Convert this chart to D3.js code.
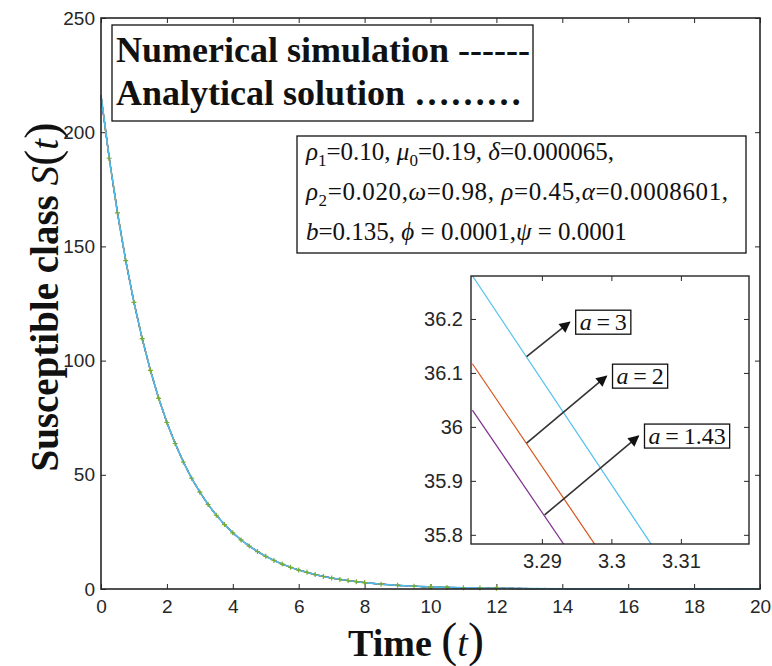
<!DOCTYPE html>
<html><head><meta charset="utf-8">
<script src="https://cdn.jsdelivr.net/npm/d3@7"></script>
<style>body{margin:0;background:#fff} svg{display:block}</style>
</head><body>
<svg id="chart" width="772" height="666"></svg>
<script>
// ---- data ----
const timePoints = [0,0.25,0.5,0.75,1,1.25,1.5,1.75,2,2.25,2.5,2.75,3,3.25,3.5,3.75,4,4.25,4.5,4.75,5,5.25,5.5,5.75,6,6.25,6.5,6.75,7,7.25,7.5,7.75,8,8.5,9,9.5,10,10.5,11,11.5,12,13,14,15,16,17,18,19,20];
const susceptible = [216,188.6,164.7,143.8,125.5,109.6,95.7,83.5,72.9,63.7,55.6,48.5,42.4,37.0,32.3,28.2,24.6,21.5,18.8,16.4,14.3,12.5,10.9,9.5,8.3,7.3,6.3,5.5,4.8,4.2,3.7,3.2,2.8,2.1,1.6,1.2,0.93,0.71,0.54,0.41,0.31,0.18,0.11,0.06,0.04,0.02,0.01,0.01,0.0];
const xTicks = [0,2,4,6,8,10,12,14,16,18,20];
const yTicks = [0,50,100,150,200,250];

const insetTimes = [3.28, 3.31];
const insetA3 = [36.28, 35.70];
const insetA2 = [36.117, 35.547];
const insetA143 = [36.031, 35.464];
const insetXTicks = [3.29, 3.30, 3.31];
const insetXTickLabels = ["3.29", "3.3", "3.31"];
const insetYTicks = [35.8, 35.9, 36.0, 36.1, 36.2];
const insetYTickLabels = ["35.8", "35.9", "36", "36.1", "36.2"];
const aValues = ["3", "2", "1.43"];
const arrowStartT = [3.2878, 3.2878, 3.2904];
const arrowStartS = [36.130, 35.970, 35.837];
const arrowEndT = [3.2940, 3.2993, 3.3039];
const arrowEndS = [36.194, 36.094, 35.983];

const legendLines = ["Numerical simulation ------", "Analytical solution \u2026\u2026\u2026"];
const paramLines = [
  [{t:"ρ",i:1},{t:"1",s:1},{t:"=0.10, "},{t:"μ",i:1},{t:"0",s:1},{t:"=0.19, "},{t:"δ",i:1},{t:"=0.000065,"}],
  [{t:"ρ",i:1},{t:"2",s:1},{t:"=0.020,"},{t:"ω",i:1},{t:"=0.98,  "},{t:"ρ",i:1},{t:"=0.45,"},{t:"α",i:1},{t:"=0.0008601,"}],
  [{t:"b",i:1},{t:"=0.135, "},{t:"ϕ",i:1},{t:" = 0.0001,"},{t:"ψ",i:1},{t:" = 0.0001"}]
];
const paramSpacing = [0, 0.6, 0];

// ---- drawing ----
const svg = d3.select("#chart");
const serif = "'Liberation Serif','Times New Roman',serif";
const sans = "'Liberation Sans',Arial,sans-serif";
const axisCol = "#262626";

const M = {left:101, right:760, top:18, bottom:589};
const x = d3.scaleLinear().domain([0,20]).range([M.left, M.right]);
const y = d3.scaleLinear().domain([0,250]).range([M.bottom, M.top]);
const data = timePoints.map((t,i)=>({t, s:susceptible[i]}));

function styleAxis(g, labels){
  g.select(".domain").remove();
  g.selectAll(".tick line").attr("stroke", axisCol).attr("stroke-width", 1);
  g.selectAll(".tick text").attr("fill", axisCol).style("font-family", sans).style("font-size", "19px");
  if(!labels) g.selectAll(".tick text").remove();
}
svg.append("g").attr("transform",`translate(0,${M.bottom})`)
  .call(d3.axisBottom(x).tickValues(xTicks).tickSize(-5).tickPadding(11).tickFormat(d3.format("d")))
  .call(g=>styleAxis(g,true));
svg.append("g").attr("transform",`translate(0,${M.top})`)
  .call(d3.axisTop(x).tickValues(xTicks).tickSize(-5)).call(g=>styleAxis(g,false));
svg.append("g").attr("transform",`translate(${M.left},0)`)
  .call(d3.axisLeft(y).tickValues(yTicks).tickSize(-5).tickPadding(6).tickFormat(d3.format("d")))
  .call(g=>styleAxis(g,true));
svg.append("g").attr("transform",`translate(${M.right},0)`)
  .call(d3.axisRight(y).tickValues(yTicks).tickSize(-5)).call(g=>styleAxis(g,false));

// curves (overlapping series)
const line = d3.line().x(d=>x(d.t)).y(d=>y(d.s));
const series = [
  {c:"#0072BD", w:1.2, dash:null},
  {c:"#7E2F8E", w:1.4, dash:"5,3"},
  {c:"#222222", w:1.2, dash:"4,4"},
  {c:"#77AC30", w:1.3, dash:"6,4"},
  {c:"#EDB120", w:1.6, dash:"1.5,5"},
  {c:"#D95319", w:1.2, dash:null},
  {c:"#4DBEEE", w:1.6, dash:null}
];
series.forEach(s=>{
  svg.append("path").datum(data).attr("fill","none").attr("stroke",s.c)
    .attr("stroke-width",s.w).attr("stroke-dasharray",s.dash).attr("d",line);
});
// + markers of numerical solution
svg.append("g").selectAll("path").data(data.filter(d=>d.t>0 && d.t<=12)).join("path")
  .attr("d", d=>`M${x(d.t)-2.5},${y(d.s)}h5M${x(d.t)},${y(d.s)-2.5}v5`)
  .attr("stroke","#77AC30").attr("stroke-width",1.2);

// frame
svg.append("rect").attr("x",M.left).attr("y",M.top).attr("width",M.right-M.left).attr("height",M.bottom-M.top)
  .attr("fill","none").attr("stroke",axisCol).attr("stroke-width",1.6);

// legend text box
svg.append("rect").attr("x",112).attr("y",25).attr("width",421).attr("height",96)
  .attr("fill","#fff").attr("stroke","#111").attr("stroke-width",1.3);
legendLines.forEach((l,i)=>{
  svg.append("text").attr("x",116).attr("y",62+i*43).text(l)
    .style("font-family",serif).style("font-weight","bold").style("font-size","36px").attr("fill","#111");
});

// parameter box
svg.append("rect").attr("x",297).attr("y",136).attr("width",449).attr("height",117)
  .attr("fill","#fff").attr("stroke","#111").attr("stroke-width",1.3);
paramLines.forEach((parts,i)=>{
  const t = svg.append("text").attr("x",306).attr("y",160+i*40)
    .style("font-family",serif).style("font-size","25px").style("letter-spacing",paramSpacing[i]+"px").attr("fill","#111");
  let shifted = false;
  parts.forEach(p=>{
    const ts = t.append("tspan").text(p.t);
    if(p.i) ts.style("font-style","italic");
    if(p.s){ ts.attr("dy",6).style("font-size","17px"); shifted = true; }
    else if(shifted){ ts.attr("dy",-6); shifted = false; }
  });
});

// axis titles
const yl = svg.append("text").attr("transform","translate(58,297) rotate(-90)")
  .attr("text-anchor","middle").style("font-family",serif).attr("fill","#111");
yl.append("tspan").text("Susceptible class ").style("font-weight","bold").style("font-size","39px");
yl.append("tspan").text("S").style("font-style","italic").style("font-size","39px");
yl.append("tspan").text("(").style("font-size","49px");
yl.append("tspan").text("t").style("font-style","italic").style("font-size","39px");
yl.append("tspan").text(")").style("font-size","49px");

const xl = svg.append("text").attr("x",416).attr("y",656)
  .attr("text-anchor","middle").style("font-family",serif).attr("fill","#111");
xl.append("tspan").text("Time ").style("font-weight","bold").style("font-size","38px");
xl.append("tspan").text("(").style("font-size","48px");
xl.append("tspan").text("t").style("font-style","italic").style("font-size","38px");
xl.append("tspan").text(")").style("font-size","48px");

// ---- inset ----
const I = {left:471, right:749, top:276, bottom:544};
const ix = d3.scaleLinear().domain([3.2798, 3.3198]).range([I.left, I.right]);
const iy = d3.scaleLinear().domain([35.783, 36.2796]).range([I.bottom, I.top]);
svg.append("rect").attr("x",I.left).attr("y",I.top).attr("width",I.right-I.left).attr("height",I.bottom-I.top)
  .attr("fill","#fff");
svg.append("clipPath").attr("id","insetClip").append("rect")
  .attr("x",I.left).attr("y",I.top).attr("width",I.right-I.left).attr("height",I.bottom-I.top);

svg.append("g").attr("transform",`translate(0,${I.bottom})`)
  .call(d3.axisBottom(ix).tickValues(insetXTicks).tickSize(-5).tickPadding(10).tickFormat((d,i)=>insetXTickLabels[i]))
  .call(g=>{styleAxis(g,true); g.selectAll(".tick text").style("font-size","20px");});
svg.append("g").attr("transform",`translate(0,${I.top})`)
  .call(d3.axisTop(ix).tickValues(insetXTicks).tickSize(-5)).call(g=>styleAxis(g,false));
svg.append("g").attr("transform",`translate(${I.left},0)`)
  .call(d3.axisLeft(iy).tickValues(insetYTicks).tickSize(-5).tickPadding(8).tickFormat((d,i)=>insetYTickLabels[i]))
  .call(g=>{styleAxis(g,true); g.selectAll(".tick text").style("font-size","20px");});
svg.append("g").attr("transform",`translate(${I.right},0)`)
  .call(d3.axisRight(iy).tickValues(insetYTicks).tickSize(-5)).call(g=>styleAxis(g,false));

const insetSeries = [
  {v:insetA143, c:"#7E2F8E"},
  {v:insetA2, c:"#D95319"},
  {v:insetA3, c:"#4DBEEE"}
];
const iline = d3.line().x(d=>ix(d[0])).y(d=>iy(d[1]));
insetSeries.forEach(s=>{
  svg.append("path").datum(insetTimes.map((t,i)=>[t,s.v[i]]))
    .attr("clip-path","url(#insetClip)").attr("fill","none").attr("stroke",s.c).attr("stroke-width",1.2).attr("d",iline);
});
svg.append("rect").attr("x",I.left).attr("y",I.top).attr("width",I.right-I.left).attr("height",I.bottom-I.top)
  .attr("fill","none").attr("stroke",axisCol).attr("stroke-width",1.4);

// arrows
svg.append("defs").append("marker").attr("id","ah").attr("viewBox","0 0 10 10")
  .attr("refX",9).attr("refY",5).attr("markerWidth",13).attr("markerHeight",11)
  .attr("markerUnits","userSpaceOnUse").attr("orient","auto")
  .append("path").attr("d","M0,0L10,5L0,10Z").attr("fill","#111");
aValues.forEach((a,i)=>{
  const x0 = ix(arrowStartT[i]), y0 = iy(arrowStartS[i]), x1 = ix(arrowEndT[i]), y1 = iy(arrowEndS[i]);
  svg.append("line").attr("x1",x0).attr("y1",y0).attr("x2",x1).attr("y2",y1)
    .attr("stroke","#333").attr("stroke-width",1.6).attr("marker-end","url(#ah)");
  const g = svg.append("g");
  const t = g.append("text").attr("x",x1+10).attr("y",y1+8)
    .style("font-family",serif).style("font-size","24px").attr("fill","#111");
  t.append("tspan").text("a").style("font-style","italic");
  t.append("tspan").text("\u2009=\u2009" + a);
  const bb = t.node().getBBox();
  g.insert("rect","text").attr("x",bb.x-4).attr("y",bb.y+1).attr("width",bb.width+8).attr("height",bb.height-2)
    .attr("fill","#fff").attr("stroke","#111").attr("stroke-width",1.3);
});
</script>
</body></html>
